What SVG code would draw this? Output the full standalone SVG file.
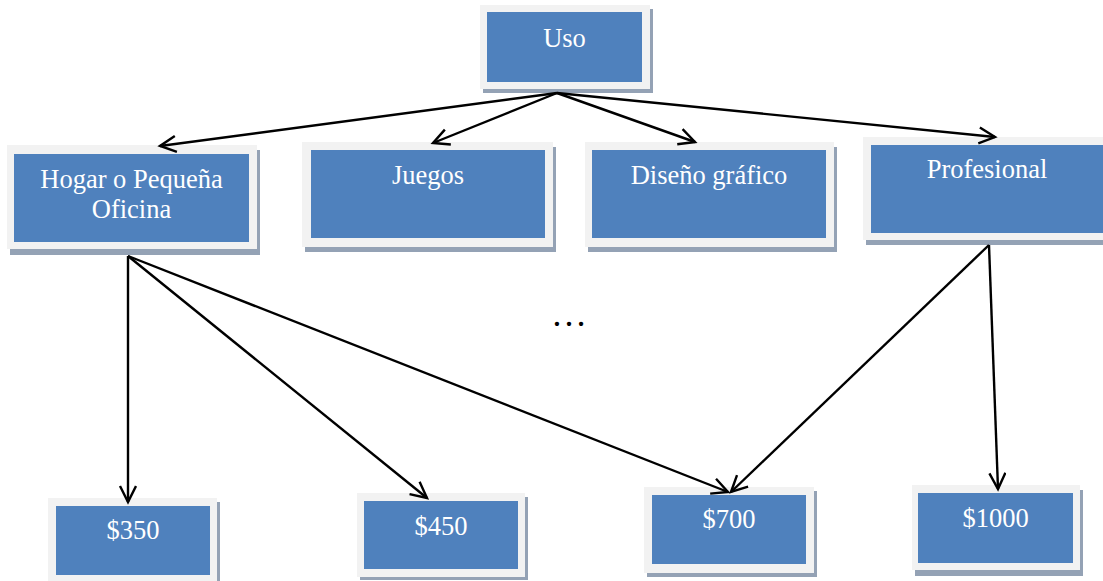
<svg xmlns="http://www.w3.org/2000/svg" width="1103" height="581" viewBox="0 0 1103 581">
<style>
.sh{fill:#94a2b5}
.out{fill:#f2f2f2}
.in{fill:#4f81bd}
.t{font-family:"Liberation Serif","Times New Roman",serif;font-size:26.5px;fill:#ffffff;text-anchor:middle}
.c{stroke:#000;stroke-width:2.4;fill:none}
</style>
<defs>
<marker id="ah" viewBox="0 0 20 20" refX="17" refY="9" markerWidth="20" markerHeight="20" markerUnits="userSpaceOnUse" orient="auto">
<path d="M1,1 L17,9 L1,17" fill="none" stroke="#000" stroke-width="2.4"/>
</marker>
</defs>
<rect width="1103" height="581" fill="#ffffff"/>

<g id="uso">
<rect class="sh" x="483" y="9" width="170" height="84"/>
<rect class="out" x="480" y="5" width="170" height="84"/>
<rect class="in" x="487" y="12" width="155" height="70"/>
<text class="t" x="564.5" y="47">Uso</text>
</g>

<g id="hogar">
<rect class="sh" x="10" y="150" width="250" height="105"/>
<rect class="out" x="7" y="145" width="250" height="104"/>
<rect class="in" x="14" y="154" width="235" height="88"/>
<text class="t" x="131.5" y="188">Hogar o Pequeña</text>
<text class="t" x="131.5" y="218">Oficina</text>
</g>

<g id="juegos">
<rect class="sh" x="305" y="147" width="251" height="105"/>
<rect class="out" x="302" y="142" width="251" height="105"/>
<rect class="in" x="311" y="150" width="234" height="88"/>
<text class="t" x="428" y="184">Juegos</text>
</g>

<g id="diseno">
<rect class="sh" x="588" y="147" width="249" height="105"/>
<rect class="out" x="585" y="142" width="249" height="105"/>
<rect class="in" x="592" y="150" width="234" height="88"/>
<text class="t" x="709" y="184">Diseño gráfico</text>
</g>

<g id="profesional">
<rect class="sh" x="866" y="141" width="250" height="104"/>
<rect class="out" x="863" y="137" width="250" height="103"/>
<rect class="in" x="871" y="145" width="240" height="88"/>
<text class="t" x="987" y="178">Profesional</text>
</g>

<g id="p350">
<rect class="sh" x="51" y="502" width="169" height="90"/>
<rect class="out" x="48" y="498" width="169" height="90"/>
<rect class="in" x="56" y="506" width="154" height="69"/>
<text class="t" x="133" y="539">$350</text>
</g>

<g id="p450">
<rect class="sh" x="360" y="497" width="168" height="83"/>
<rect class="out" x="357" y="493" width="168" height="84"/>
<rect class="in" x="364" y="501" width="154" height="68"/>
<text class="t" x="441" y="535">$450</text>
</g>

<g id="p700">
<rect class="sh" x="647" y="491" width="170" height="86"/>
<rect class="out" x="644" y="487" width="170" height="86"/>
<rect class="in" x="652" y="495" width="154" height="69"/>
<text class="t" x="729" y="528">$700</text>
</g>

<g id="p1000">
<rect class="sh" x="915" y="490" width="168" height="86"/>
<rect class="out" x="912" y="485" width="168" height="85"/>
<rect class="in" x="918" y="493" width="155" height="70"/>
<text class="t" x="995.5" y="527">$1000</text>
</g>

<g id="connectors">
<line class="c" x1="557" y1="93" x2="160" y2="146" marker-end="url(#ah)"/>
<line class="c" x1="557" y1="93" x2="433" y2="143" marker-end="url(#ah)"/>
<line class="c" x1="557" y1="93" x2="695" y2="142" marker-end="url(#ah)"/>
<line class="c" x1="557" y1="93" x2="995" y2="137" marker-end="url(#ah)"/>
<line class="c" x1="128" y1="256" x2="128" y2="502" marker-end="url(#ah)"/>
<line class="c" x1="128" y1="256" x2="427" y2="498" marker-end="url(#ah)"/>
<line class="c" x1="128" y1="256" x2="728" y2="492" marker-end="url(#ah)"/>
<line class="c" x1="989" y1="245" x2="731" y2="492" marker-end="url(#ah)"/>
<line class="c" x1="989" y1="245" x2="998" y2="489" marker-end="url(#ah)"/>
</g>

<text x="569" y="326" font-family="Liberation Serif, serif" font-size="36" fill="#000" text-anchor="middle">…</text>
</svg>
